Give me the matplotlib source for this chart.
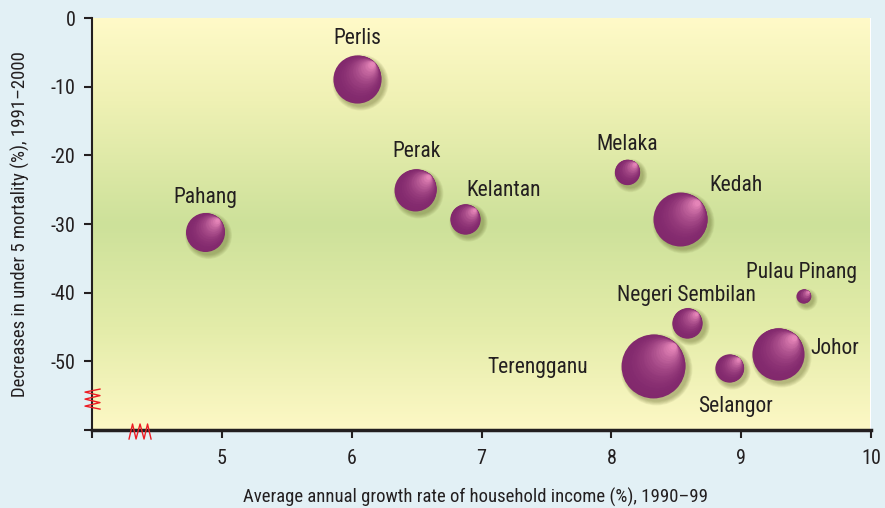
import numpy as np
import matplotlib.pyplot as plt
from matplotlib.colors import LinearSegmentedColormap, to_rgb
from matplotlib.transforms import ScaledTranslation
from matplotlib.lines import Line2D

# data
states = ['Perlis', 'Perak', 'Kelantan', 'Pahang', 'Melaka', 'Kedah',
          'Pulau Pinang', 'Negeri Sembilan', 'Terengganu', 'Selangor', 'Johor']
income_growth = [6.04, 6.49, 6.87, 4.87, 8.12, 8.53, 9.48, 8.58, 8.32, 8.91, 9.28]
mortality_drop = [-8.9, -25.0, -29.3, -31.2, -22.4, -29.3, -40.5, -44.4, -50.7, -51.0, -48.9]
bubble = [5.8, 4.4, 2.3, 3.8, 1.6, 7.3, 0.5, 2.3, 10.2, 2.0, 6.8]  # relative bubble area

xticks = [4, 5, 6, 7, 8, 9, 10]
xticklabels = ['', '5', '6', '7', '8', '9', '10']
yticks = [-60, -50, -40, -30, -20, -10, 0]
yticklabels = ['', '-50', '-40', '-30', '-20', '-10', '0']

# label offsets from bubble centre, in pixels (right, down)
label_off = {'Perlis': (0, -41), 'Perak': (1, -38), 'Kelantan': (39, -29),
             'Pahang': (0, -35), 'Melaka': (0, -27), 'Kedah': (56, -34),
             'Pulau Pinang': (-2, -24), 'Negeri Sembilan': (0, -27),
             'Terengganu': (-115, 1), 'Selangor': (6, 38), 'Johor': (57, -5)}

txt = '#231f20'
plt.rcParams['font.family'] = ['Roboto Condensed', 'DejaVu Sans Condensed',
                               'Liberation Sans', 'DejaVu Sans']

fig = plt.figure(figsize=(8.85, 5.08), dpi=100, facecolor='#e2f0f5')
ax = fig.add_axes([92 / 885, 1 - 430 / 508, 779 / 885, 412 / 508])
ax.set_xlim(4, 10)
ax.set_ylim(-60, 0)

# background gradient
bg = LinearSegmentedColormap.from_list('bg', [(0, '#fffac8'), (0.2, '#eff1b4'),
                                              (0.5, '#cde19a'), (0.75, '#e3eca9'),
                                              (1, '#fdf8c5')])
ax.imshow(np.linspace(0, 1, 256).reshape(-1, 1), extent=[4, 9.99, -60, 0],
          aspect='auto', cmap=bg, origin='upper', zorder=0)

# bubbles with fake radial shading
dark = np.array(to_rgb('#82296d'))
light = np.array(to_rgb('#e585b8'))
dpi = fig.dpi
hx, hy = np.cos(np.radians(45)), np.sin(np.radians(45))
N = 28
for x, y, b in zip(income_growth, mortality_drop, bubble):
    r = 10 * np.sqrt(b)  # radius in pixels
    # soft shadow
    for k in range(6):
        rr = r + 4 - k * 0.8
        tr = ax.transData + ScaledTranslation(3 / dpi, -3 / dpi, fig.dpi_scale_trans)
        ax.scatter([x], [y], s=(2 * rr * 72 / dpi) ** 2, color='#4e5318',
                   alpha=0.07, linewidths=0, transform=tr, zorder=2)
    for i in range(N):
        t = i / (N - 1)
        ri = r * (1 - 0.9 * t)
        off = (r - ri) * 0.97
        tr = ax.transData + ScaledTranslation(off * hx / dpi, off * hy / dpi,
                                              fig.dpi_scale_trans)
        c = dark + (light - dark) * t ** 2.0
        ax.scatter([x], [y], s=(2 * ri * 72 / dpi) ** 2, color=c,
                   linewidths=0, transform=tr, zorder=3)

for name, x, y in zip(states, income_growth, mortality_drop):
    dx, dy = label_off[name]
    ax.annotate(name, (x, y), xytext=(dx * 0.72, -dy * 0.72), textcoords='offset points',
                ha='center', va='center', fontsize=15.5, color=txt, zorder=5)

for s in ['top', 'right']:
    ax.spines[s].set_visible(False)
ax.spines['left'].set_linewidth(1.5)
ax.spines['left'].set_color(txt)
ax.spines['bottom'].set_linewidth(2.5)
ax.spines['bottom'].set_color(txt)

ax.set_xticks(xticks)
ax.set_xticklabels(xticklabels)
ax.set_yticks(yticks)
ax.set_yticklabels(yticklabels)
ax.tick_params(direction='out', length=6, width=1.5, color=txt, labelcolor=txt,
               labelsize=14.5)
ax.tick_params(axis='x', pad=8)
ax.tick_params(axis='y', pad=6)

ax.set_xlabel('Average annual growth rate of household income (%), 1990–99',
              fontsize=13.5, color=txt)
ax.xaxis.set_label_coords(0.492, -0.163)
ax.xaxis.label.set_va('center')
ax.set_ylabel('Decreases in under 5 mortality (%), 1991–2000', fontsize=13.5, color=txt)
ax.yaxis.set_label_coords(-0.092, 0.5)
ax.yaxis.label.set_va('center')

# red axis-break zigzags
W, H = 885, 508
bx, by = ax.transData.transform((4, -55.5))
zx = bx + np.array([8, -7, 8, -7, 8, -7, 8])
zy = by + np.array([10, 7, 3.5, 0, -3.5, -7, -10])
fig.add_artist(Line2D(zx / W, zy / H, transform=fig.transFigure, color='#ed1c24', lw=1))
bx, by = ax.transData.transform((4.37, -60))
zx = bx + np.array([-11, -7.5, -4, 0, 4, 7.5, 11])
zy = by + np.array([-9, 6, -9, 6, -9, 6, -9])
fig.add_artist(Line2D(zx / W, zy / H, transform=fig.transFigure, color='#ed1c24', lw=1))

fig.savefig('out.png', dpi=100, facecolor=fig.get_facecolor())
